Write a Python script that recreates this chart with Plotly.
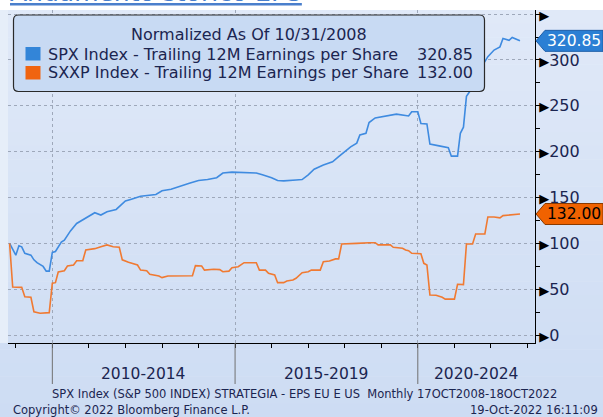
import plotly.graph_objects as go
import pandas as pd

# ---------------- data ----------------
spx_dates = ["2008-10-31", "2009-01-01", "2009-02-01", "2009-03-01", "2009-04-01", "2009-06-01",
             "2009-07-01", "2009-08-01", "2009-10-01", "2009-11-01", "2009-12-01", "2010-01-01",
             "2010-02-01", "2010-04-01", "2010-05-01", "2010-07-01", "2010-09-01", "2010-12-01",
             "2011-03-01", "2011-05-01", "2011-07-01", "2011-10-01", "2012-01-01", "2012-03-01",
             "2012-06-01", "2012-11-01", "2013-01-01", "2013-04-01", "2013-07-01", "2013-10-01",
             "2014-01-01", "2014-04-01", "2014-07-01", "2014-09-01", "2014-12-01", "2015-08-01",
             "2015-10-01", "2016-01-01", "2016-03-01", "2016-05-01", "2016-09-01", "2016-11-01",
             "2017-01-01", "2017-03-01", "2017-06-01", "2017-09-01", "2017-11-01", "2018-03-01",
             "2018-05-01", "2018-06-01", "2018-08-01", "2018-09-01", "2018-11-01", "2019-03-01",
             "2019-06-01", "2019-10-01", "2019-11-01", "2020-01-01", "2020-02-01", "2020-04-01",
             "2020-05-01", "2020-08-01", "2020-11-01", "2020-12-01", "2021-02-01", "2021-03-01",
             "2021-04-01", "2021-05-01", "2021-06-01", "2021-09-01", "2021-10-01", "2021-12-01",
             "2022-02-01", "2022-04-01", "2022-05-01", "2022-07-01", "2022-08-01", "2022-10-18"]
spx_values = [100, 87.1, 97.3, 96.2, 89.1, 87.1,
              82, 78.9, 74.8, 69.7, 69.7, 90.1,
              91.1, 101.3, 103.4, 113.6, 121.7, 127.3,
              133.4, 130.9, 134.5, 137, 146.2, 148.2,
              151.3, 153.3, 157.4, 158.9, 162.5, 165.5,
              168.6, 169.6, 171.6, 176.7, 177.7, 176.7,
              174.7, 171.6, 168.6, 168.1, 169.1, 169.6,
              174.7, 180.8, 185.4, 189, 194.6, 205.3,
              209.3, 218.2, 220, 231.7, 236.8, 238.9,
              240.9, 238.9, 243.6, 243.6, 230.7, 230.2,
              208.3, 206.3, 204.2, 195.1, 195.1, 220,
              226.7, 260.3, 265.4, 278.1, 292.9, 303.6,
              310.8, 314.3, 323.4, 321.4, 324.5, 320.85]

sxxp_dates = ["2008-10-31", "2008-12-01", "2009-03-01", "2009-04-01", "2009-06-01", "2009-07-01",
              "2009-09-01", "2009-12-01", "2010-01-01", "2010-02-01", "2010-03-01", "2010-05-01",
              "2010-06-01", "2010-08-01", "2010-09-01", "2010-11-01", "2010-12-01", "2011-03-01",
              "2011-05-01", "2011-07-01", "2011-09-01", "2011-11-01", "2011-12-01", "2012-02-01",
              "2012-05-01", "2012-06-01", "2012-08-01", "2012-09-01", "2012-12-01", "2013-01-01",
              "2013-03-01", "2013-11-01", "2013-12-01", "2014-02-01", "2014-03-01", "2014-06-01",
              "2014-08-01", "2014-09-01", "2014-11-01", "2014-12-01", "2015-02-01", "2015-04-01",
              "2015-08-01", "2015-09-01", "2015-11-01", "2015-12-01", "2016-02-01", "2016-03-01",
              "2016-05-01", "2016-06-01", "2016-08-01", "2016-09-01", "2016-11-01", "2017-01-01",
              "2017-02-01", "2017-05-01", "2017-06-01", "2017-08-01", "2017-10-01", "2017-11-01",
              "2017-12-01", "2018-03-01", "2018-05-01", "2018-09-01", "2018-11-01", "2018-12-01",
              "2019-04-01", "2019-05-01", "2019-08-01", "2019-09-01", "2019-10-01", "2019-11-01",
              "2020-02-01", "2020-03-01", "2020-04-01", "2020-05-01", "2020-07-01", "2020-09-01",
              "2020-10-01", "2021-01-01", "2021-02-01", "2021-04-01", "2021-05-01", "2021-07-01",
              "2021-08-01", "2021-11-01", "2021-12-01", "2022-02-01", "2022-04-01", "2022-05-01",
              "2022-07-01", "2022-10-18"]
sxxp_values = [100, 52.4, 52, 41.8, 41.2, 25.4,
               23.7, 24.4, 56.5, 57.1, 68.7, 70.1,
               75.2, 76.4, 81, 81, 92.8, 94.2,
               96.2, 98.3, 96.2, 95.7, 82, 79.3,
               76.4, 70.8, 70.1, 66.2, 64.3, 62.6,
               64.3, 64.6, 75.7, 75.3, 70.8, 71.8,
               71.3, 69, 69.7, 73.4, 74.5, 78.9,
               78.9, 70.8, 70.8, 67.3, 65.5, 57.1,
               57.1, 58.9, 60, 61.9, 68, 69,
               70.8, 70.8, 79.9, 80.7, 83, 83,
               99.3, 99.3, 100, 100.7, 100.7, 98.3,
               98.3, 95.7, 94.6, 92.8, 92, 89.1,
               88.6, 78.2, 76.4, 43.7, 43.3, 41.2,
               39.2, 39.2, 55.4, 55, 99.3, 99.3,
               110.2, 110.2, 128.8, 128.8, 127.8, 130.2,
               130.9, 132]

spx_name = "SPX Index - Trailing 12M Earnings per Share"
sxxp_name = "SXXP Index - Trailing 12M Earnings per Share"
legend_title = "Normalized As Of 10/31/2008"
period_labels = ["2010-2014", "2015-2019", "2020-2024"]
period_starts = ["2010-01-01", "2015-01-01", "2020-01-01"]
period_ends = ["2015-01-01", "2020-01-01", "2025-01-01"]
y_ticks = [0, 50, 100, 150, 200, 250, 300, 350]
y_tick_labels = ["0", "50", "100", "150", "200", "250", "300", ""]
x_range = ["2008-10-15", "2023-03-17"]
y_range = [-8.7, 354.5]
title_text = "Andamento storico EPS"
footer_1 = "SPX Index (S&P 500 INDEX) STRATEGIA - EPS EU E US  Monthly 17OCT2008-18OCT2022"
footer_2 = "Copyright\u00a9 2022 Bloomberg Finance L.P."
footer_3 = "19-Oct-2022 16:11:09"

BLUE = "#3f8be0"
ORANGE = "#f07a32"
TAG_BLUE = "#2b7fd4"
TAG_ORANGE = "#f06200"
NAVY = "#1b2550"
FONT = "DejaVu Sans"

# ---------------- layout geometry (pixels) ----------------
W, H = 603, 417
L, R, T, B = 8, 535, 10, 343


def px2x(px):
    return (px - L) / (R - L)


def py2y(py):
    return (B - py) / (B - T)


fig = go.Figure()
fig.add_trace(go.Scatter(x=spx_dates, y=spx_values, mode="lines", name=spx_name,
                         line=dict(color=BLUE, width=1.6)))
fig.add_trace(go.Scatter(x=sxxp_dates, y=sxxp_values, mode="lines", name=sxxp_name,
                         line=dict(color=ORANGE, width=1.6)))

shapes = []
# background gradient bands
top_c = (224, 233, 248)
bot_c = (205, 220, 243)
n = 30
for i in range(n):
    p0 = T + (H - T) * i / n
    p1 = T + (H - T) * (i + 1) / n + 0.5
    f = (i + 0.5) / n
    c = tuple(int(round(top_c[k] + (bot_c[k] - top_c[k]) * f)) for k in range(3))
    shapes.append(dict(type="rect", xref="paper", yref="paper", layer="below",
                       x0=px2x(0), x1=px2x(W), y0=py2y(p1), y1=py2y(p0),
                       fillcolor="rgb(%d,%d,%d)" % c, line=dict(width=0)))
# lighter strip left of the plot
shapes.append(dict(type="rect", xref="paper", yref="paper", layer="below",
                   x0=px2x(0), x1=px2x(L), y0=py2y(B), y1=py2y(T),
                   fillcolor="#e6eef9", line=dict(width=0)))

# legend box with rounded corners
bx0, bx1, by0, by1, r = 13.5, 484.5, 15, 91.5, 5


def rpath(x0, x1, y0, y1, r):
    X = px2x
    Y = py2y
    return (f"M {X(x0 + r)},{Y(y0)} L {X(x1 - r)},{Y(y0)} Q {X(x1)},{Y(y0)} {X(x1)},{Y(y0 + r)} "
            f"L {X(x1)},{Y(y1 - r)} Q {X(x1)},{Y(y1)} {X(x1 - r)},{Y(y1)} "
            f"L {X(x0 + r)},{Y(y1)} Q {X(x0)},{Y(y1)} {X(x0)},{Y(y1 - r)} "
            f"L {X(x0)},{Y(y0 + r)} Q {X(x0)},{Y(y0)} {X(x0 + r)},{Y(y0)} Z")


shapes.append(dict(type="path", xref="paper", yref="paper", path=rpath(bx0, bx1, by0, by1, r),
                   fillcolor="#c8daf3", line=dict(color="#2a2a2a", width=1.2), layer="above"))
# legend squares
for (yy0, yy1, col) in [(47, 60.5, "#3385d8"), (66, 79.5, "#f06410")]:
    shapes.append(dict(type="rect", xref="paper", yref="paper", x0=px2x(25.5), x1=px2x(40.5),
                       y0=py2y(yy1), y1=py2y(yy0), fillcolor=col, line=dict(width=0), layer="above"))

# period separator lines below axis
for d in period_starts:
    shapes.append(dict(type="line", xref="x", yref="paper", x0=d, x1=d,
                       y0=py2y(B), y1=py2y(384), line=dict(color="#707070", width=1)))

# value tags (pentagons) on the right axis
ppy = (y_range[1] - y_range[0]) / (B - T)  # data units per pixel
for val, col, edge in [(spx_values[-1], TAG_BLUE, "#1f5fa8"), (sxxp_values[-1], TAG_ORANGE, "#8a3a00")]:
    h = 10.5 * ppy
    p = (f"M {px2x(536)},{val} L {px2x(545)},{val + h} L {px2x(603)},{val + h} "
         f"L {px2x(603)},{val - h} L {px2x(545)},{val - h} Z")
    shapes.append(dict(type="path", xref="paper", yref="y", path=p, fillcolor=col,
                       line=dict(color=edge, width=1), layer="above"))

annotations = []
# title (cut off at top)
annotations.append(dict(text="<u>" + title_text + "</u>", xref="paper", yref="paper",
                        x=px2x(8), y=py2y(9), xanchor="left", yanchor="bottom", showarrow=False,
                        font=dict(family=FONT, size=25, color="#4a7fcc")))
# legend texts
annotations.append(dict(text=legend_title, xref="paper", yref="paper", x=px2x(249), y=py2y(34.5),
                        xanchor="center", yanchor="middle", showarrow=False,
                        font=dict(family=FONT, size=16, color=NAVY)))
for name, val, yy in [(spx_name, spx_values[-1], 54), (sxxp_name, sxxp_values[-1], 73)]:
    annotations.append(dict(text=name, xref="paper", yref="paper", x=px2x(46), y=py2y(yy),
                            xanchor="left", yanchor="middle", showarrow=False,
                            font=dict(family=FONT, size=16, color=NAVY)))
    annotations.append(dict(text=f"{val:.2f}", xref="paper", yref="paper", x=px2x(475), y=py2y(yy),
                            xanchor="right", yanchor="middle", showarrow=False,
                            font=dict(family=FONT, size=16, color=NAVY)))
# tag texts
for val, tc in [(spx_values[-1], "white"), (sxxp_values[-1], "black")]:
    annotations.append(dict(text=f"{val:.2f}", xref="paper", yref="y", x=px2x(574), y=val,
                            xanchor="center", yanchor="middle", showarrow=False,
                            font=dict(family=FONT, size=15.5, color=tc)))
# period labels
xr0 = pd.Timestamp(x_range[0])
xr1 = pd.Timestamp(x_range[1])
for lab, s, e in zip(period_labels, period_starts, period_ends):
    s_t = max(pd.Timestamp(s), xr0)
    e_t = min(pd.Timestamp(e), xr1)
    mid = s_t + (e_t - s_t) / 2
    annotations.append(dict(text=lab, xref="x", yref="paper", x=mid.strftime("%Y-%m-%d"),
                            y=py2y(373.5), xanchor="center", yanchor="middle", showarrow=False,
                            font=dict(family=FONT, size=15.5, color=NAVY)))
# footers
annotations.append(dict(text=footer_1, xref="paper", yref="paper", x=px2x(304), y=py2y(394),
                        xanchor="center", yanchor="middle", showarrow=False,
                        font=dict(family=FONT, size=11.5, color=NAVY)))
annotations.append(dict(text=footer_2, xref="paper", yref="paper", x=px2x(11), y=py2y(409.5),
                        xanchor="left", yanchor="middle", showarrow=False,
                        font=dict(family=FONT, size=11.5, color=NAVY)))
annotations.append(dict(text=footer_3, xref="paper", yref="paper", x=px2x(600), y=py2y(409.5),
                        xanchor="right", yanchor="middle", showarrow=False,
                        font=dict(family=FONT, size=11.5, color=NAVY)))

tri = '<span style="font-size:13px;color:black">\u25b6</span>'
fig.update_layout(
    width=W, height=H,
    margin=dict(l=L, r=W - R, t=T, b=H - B, pad=0),
    paper_bgcolor="white",
    plot_bgcolor="rgba(0,0,0,0)",
    showlegend=False,
    shapes=shapes,
    annotations=annotations,
    font=dict(family=FONT, color=NAVY),
    xaxis=dict(type="date", range=x_range, tickmode="array", tickvals=period_starts,
               showticklabels=False, ticks="outside", ticklen=4, tickcolor="black",
               showgrid=True, gridcolor="#9ea8ba", griddash="dot", gridwidth=1,
               showline=True, linecolor="black", linewidth=1, zeroline=False,
               minor=dict(dtick="M12", tick0="2009-01-01", ticks="outside", ticklen=4,
                          tickcolor="black", showgrid=False)),
    yaxis=dict(side="right", range=y_range, tickmode="array", tickvals=y_ticks,
               ticktext=[tri + t for t in y_tick_labels], ticks="", showline=True,
               linecolor="black", linewidth=1, zeroline=False,
               showgrid=True, gridcolor="#9ea8ba", griddash="dot", gridwidth=1,
               tickfont=dict(family=FONT, size=16, color=NAVY),
               minor=dict(dtick=25, tick0=0, ticks="outside", ticklen=4,
                          tickcolor="black", showgrid=False)),
)

fig.write_html("out.html", config={"displayModeBar": False},
               post_script="document.body.style.margin='0';document.body.style.overflow='hidden';")
